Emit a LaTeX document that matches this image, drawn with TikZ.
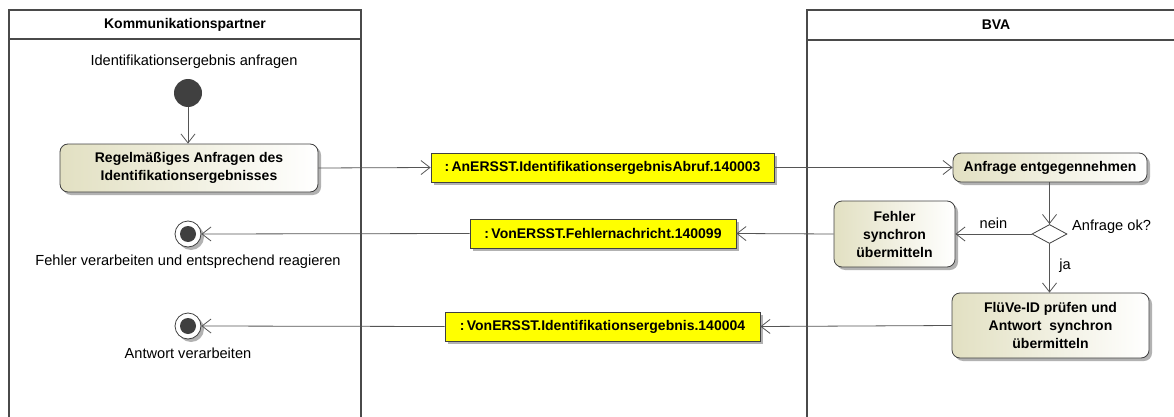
\documentclass[tikz,border=0pt]{standalone}
\usepackage{fontspec}
\setmainfont{Liberation Sans}
\usetikzlibrary{arrows.meta,shapes.geometric,shadows}
\definecolor{linec}{HTML}{555555}
\definecolor{lanec}{HTML}{4A4A4A}
\definecolor{actL}{HTML}{E2E0C2}
\definecolor{dotc}{HTML}{404040}
\definecolor{msgY}{HTML}{FFFF00}
\begin{document}
\begin{tikzpicture}[x=1pt,y=-1pt,
  lane/.style={draw=lanec,line width=1.8pt},
  hdr/.style={font=\bfseries\fontsize{14}{16}\selectfont},
  lbl/.style={font=\fontsize{14.6}{17}\selectfont,inner sep=0pt},
  shd/.style={drop shadow={shadow xshift=3pt,shadow yshift=-3pt,fill=black!30,opacity=1}},
  action/.style={draw=dotc,line width=0.8pt,rounded corners=8pt,left color=actL,right color=white,shd,
     align=center,inner sep=0pt,font=\bfseries\fontsize{14}{18}\selectfont},
  msg/.style={draw=dotc,line width=0.8pt,fill=msgY,shd,inner sep=0pt,minimum height=29pt,
     font=\bfseries\fontsize{14}{16}\selectfont},
  startn/.style={circle,fill=dotc,minimum size=28pt,inner sep=0pt},
  finaln/.style={circle,draw=dotc,line width=0.8pt,fill=white,minimum size=26pt,inner sep=0pt,shd,
     path picture={\fill[dotc] (path picture bounding box.center) circle (8pt);}},
  decn/.style={diamond,draw=dotc,line width=0.8pt,fill=white,minimum width=35pt,minimum height=19pt,inner sep=0pt},
  flow/.style={draw=linec,line width=0.8pt,-{Straight Barb[length=9pt,width=14pt,line width=0.8pt]}},
]
\useasboundingbox (0,0) rectangle (1174,417);
% lanes
\draw[lane] (9,417) -- (9,10) -- (361,10) -- (361,417);
\draw[lane] (9,39) -- (361,39);
\draw[lane] (807,417) -- (807,10) -- (1174,10);
\draw[lane] (807,40) -- (1174,40);
\node[hdr] (h1) at (185,25) {Kommunikationspartner};
\node[hdr] (h2) at (996,25) {BVA};
% left lane
\node[lbl] (startlbl) at (194,62) {Identifikationsergebnis anfragen};
\node[startn] (start) at (188,93) {};
\node[action,minimum width=258pt,minimum height=48pt] (act1) at (189,168)
  {Regelmäßiges Anfragen des\\Identifikationsergebnisses};
\node[finaln] (fin1) at (188,234) {};
\node[lbl] (fin1lbl) at (188,262) {Fehler verarbeiten und entsprechend reagieren};
\node[finaln] (fin2) at (188,326) {};
\node[lbl] (fin2lbl) at (188,353) {Antwort verarbeiten};
% messages
\node[msg,minimum width=343pt] (m1) at (602.5,167.5) {:\,AnERSST.IdentifikationsergebnisAbruf.140003};
\node[msg,minimum width=266pt] (m2) at (603,233.5) {:\,VonERSST.Fehlernachricht.140099};
\node[msg,minimum width=315pt] (m3) at (602.5,326.5) {:\,VonERSST.Identifikationsergebnis.140004};
% right lane
\node[action,minimum width=194pt,minimum height=29pt] (act2) at (1050,167.5) {Anfrage entgegennehmen};
\node[decn] (dec) at (1049.5,234) {};
\node[lbl,anchor=west] (declbl) at (1072,227) {Anfrage ok?};
\node[action,minimum width=121pt,minimum height=66pt] (act3) at (894.5,234) {Fehler\\synchron\\übermitteln};
\node[action,minimum width=197pt,minimum height=65pt] (act4) at (1050.5,325.5) {FlüVe-ID prüfen und\\Antwort\ \ synchron\\übermitteln};
% connectors
\draw[flow] (start) -- (act1.north -| start);
\draw[flow] (act1.east) -- (m1.west);
\draw[flow] (m1.east) -- (act2.west);
\draw[flow] (act2.south -| dec) -- (dec.north);
\draw[flow] (dec.west) -- node[lbl,above=5pt] (nein) {nein} (act3.east);
\draw[flow] (act3.west) -- (m2.east);
\draw[flow] (m2.west) -- (fin1.east);
\draw[flow] (dec.south) -- (act4.north -| dec);
\node[lbl] (ja) at (1065,266) {ja};
\draw[flow] (act4.west) -- (m3.east);
\draw[flow] (m3.west) -- (fin2.east);
\end{tikzpicture}
\end{document}
